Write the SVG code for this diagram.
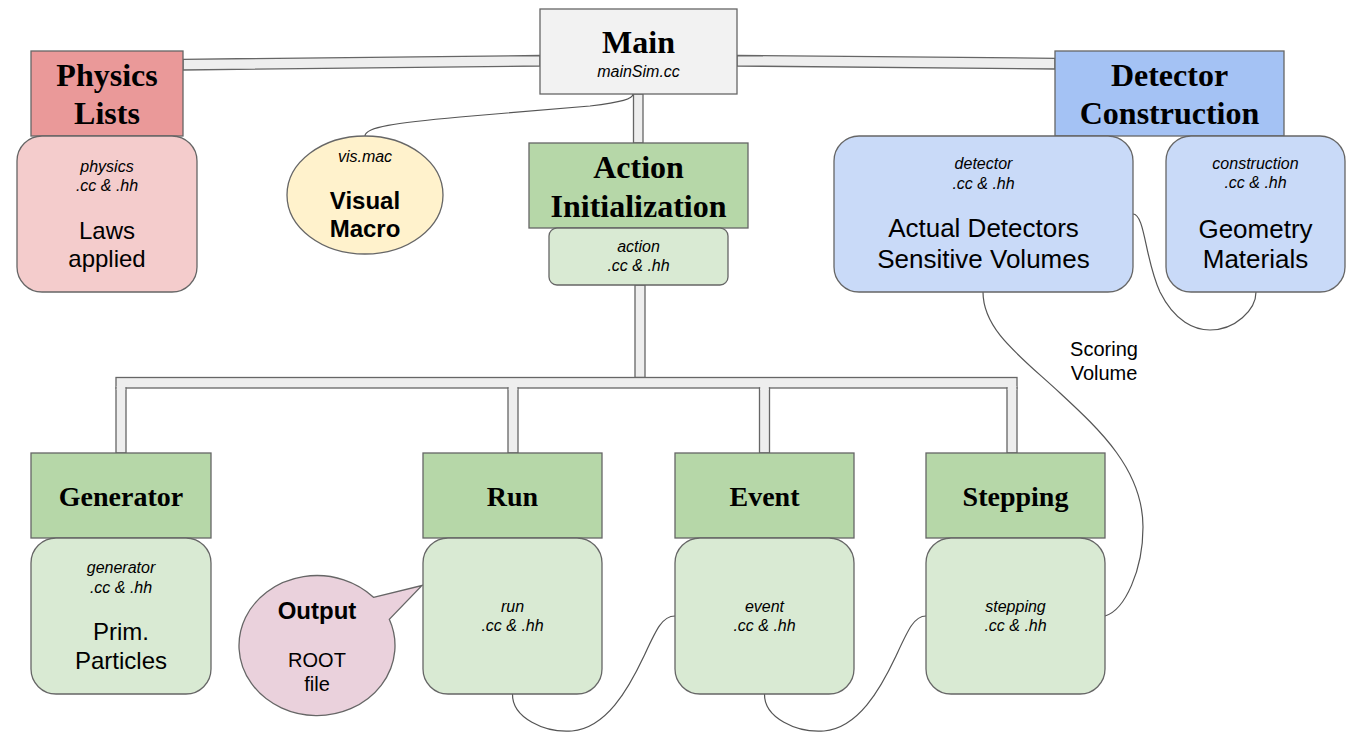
<svg xmlns="http://www.w3.org/2000/svg" width="1365" height="749" viewBox="0 0 1365 749">
<style>
.box{stroke:#666666;stroke-width:1.3}
.pipe{fill:#eeeeee;stroke:#666666;stroke-width:1.3}
.cover{fill:#eeeeee;stroke:none}
.wire{fill:none;stroke:#555555;stroke-width:1.2}
.title{font-family:"Liberation Serif","Times New Roman",serif;font-weight:bold;text-anchor:middle;fill:#000}
.sub{font-family:"Liberation Sans",Arial,sans-serif;font-style:italic;font-size:16px;text-anchor:middle;fill:#000}
.body{font-family:"Liberation Sans",Arial,sans-serif;text-anchor:middle;fill:#000}
</style>
<rect width="1365" height="749" fill="#ffffff"/>
<g id="connectors">
  <polygon class="pipe" points="183,59.3 540,55.5 540,66 183,70"/>
  <polygon class="pipe" points="737,55.5 1055,58.3 1055,69 737,66"/>
  <rect class="pipe" x="633.5" y="94" width="9.5" height="49"/>
  <rect class="pipe" x="635" y="285" width="10" height="92.5"/>
  <rect class="pipe" x="116" y="377.5" width="901" height="10.5"/>
  <rect class="pipe" x="116" y="388" width="10" height="65"/>
  <rect class="pipe" x="508" y="388" width="10" height="65"/>
  <rect class="pipe" x="759.5" y="388" width="10" height="65"/>
  <rect class="pipe" x="1007" y="388" width="10" height="65"/>
  <rect class="cover" x="116.7" y="386" width="8.6" height="4"/>
  <rect class="cover" x="508.7" y="386" width="8.6" height="4"/>
  <rect class="cover" x="760.2" y="386" width="8.6" height="4"/>
  <rect class="cover" x="1007.7" y="386" width="8.6" height="4"/>
  <path class="wire" d="M365,136 C365,127 395,123 460,117 L590,106 C622,102 633,99 633,94"/>
  <path class="wire" d="M512.5,694 C512,718 545,733 572,731 C606,728 628,690 644,656 C656,630 662,616 675,616"/>
  <path class="wire" d="M764.5,694 C764,718 797,733 824,731 C858,728 880,690 896,656 C908,630 914,616 926,616"/>
  <path class="wire" d="M1105,616 C1125,610 1143,570 1143,527 C1143,470 1100,430 1060,393 C1020,356 983,330 983,292"/>
  <path class="wire" d="M1133,214 C1145,214 1145,260 1160,292 C1175,322 1195,330 1210,330 C1235,330 1256,310 1256,292"/>
  <text class="body" font-size="20" x="1104" y="356">Scoring</text>
  <text class="body" font-size="20" x="1104" y="380">Volume</text>
</g>
<g id="main">
  <rect class="box" x="540" y="9" width="197" height="85" fill="#f2f2f2"/>
  <text class="title" font-size="32" x="638.5" y="53">Main</text>
  <text class="sub" x="638.5" y="77">mainSim.cc</text>
</g>
<g id="physics-lists">
  <rect class="box" x="31" y="51" width="152" height="85" fill="#ea9999"/>
  <text class="title" font-size="32" x="107" y="86">Physics</text>
  <text class="title" font-size="32" x="107" y="124">Lists</text>
</g>
<g id="physics-files">
  <rect class="box" x="17" y="136" width="180" height="156" rx="25" fill="#f4cccc"/>
  <text class="sub" x="107" y="172">physics</text>
  <text class="sub" x="107" y="191">.cc &amp; .hh</text>
  <text class="body" font-size="24" x="107" y="239">Laws</text>
  <text class="body" font-size="24" x="107" y="267">applied</text>
</g>
<g id="visual-macro">
  <ellipse class="box" cx="365" cy="195" rx="78" ry="59" fill="#fff2cc"/>
  <text class="sub" x="365" y="162">vis.mac</text>
  <text class="body" font-size="24" font-weight="bold" x="365" y="209">Visual</text>
  <text class="body" font-size="24" font-weight="bold" x="365" y="237">Macro</text>
</g>
<g id="action-initialization">
  <rect class="box" x="529" y="143" width="219" height="85" fill="#b6d7a8"/>
  <text class="title" font-size="32" x="638.5" y="178">Action</text>
  <text class="title" font-size="32" x="638.5" y="217">Initialization</text>
</g>
<g id="action-files">
  <rect class="box" x="549" y="228" width="179" height="57" rx="8" fill="#d9ead3"/>
  <text class="sub" x="638.5" y="252">action</text>
  <text class="sub" x="638.5" y="271">.cc &amp; .hh</text>
</g>
<g id="detector-construction">
  <rect class="box" x="1055" y="51" width="229" height="85" fill="#a4c2f4"/>
  <text class="title" font-size="32" x="1169.5" y="86">Detector</text>
  <text class="title" font-size="32" x="1169.5" y="124">Construction</text>
</g>
<g id="detector-files">
  <rect class="box" x="834" y="136" width="299" height="156" rx="25" fill="#c9daf8"/>
  <text class="sub" x="983.5" y="169">detector</text>
  <text class="sub" x="983.5" y="189">.cc &amp; .hh</text>
  <text class="body" font-size="26" x="983.5" y="237">Actual Detectors</text>
  <text class="body" font-size="26" x="983.5" y="268">Sensitive Volumes</text>
</g>
<g id="construction-files">
  <rect class="box" x="1166" y="136" width="179" height="156" rx="25" fill="#c9daf8"/>
  <text class="sub" x="1255.5" y="169">construction</text>
  <text class="sub" x="1255.5" y="188">.cc &amp; .hh</text>
  <text class="body" font-size="26" x="1255.5" y="238">Geometry</text>
  <text class="body" font-size="26" x="1255.5" y="268">Materials</text>
</g>
<g id="generator">
  <rect class="box" x="31" y="453" width="180" height="85" fill="#b6d7a8"/>
  <text class="title" font-size="28" x="121" y="506">Generator</text>
</g>
<g id="generator-files">
  <rect class="box" x="31" y="538" width="180" height="156" rx="25" fill="#d9ead3"/>
  <text class="sub" x="121" y="573">generator</text>
  <text class="sub" x="121" y="593">.cc &amp; .hh</text>
  <text class="body" font-size="24" x="121" y="640">Prim.</text>
  <text class="body" font-size="24" x="121" y="669">Particles</text>
</g>
<g id="output">
  <path class="box" fill="#ead1dc" d="M373.5,597.3 L422,585.5 L389.3,619.3 A78,70 0 1 1 373.5,597.3 Z"/>
  <text class="body" font-size="24" font-weight="bold" x="317" y="619">Output</text>
  <text class="body" font-size="20" x="317" y="667">ROOT</text>
  <text class="body" font-size="20" x="317" y="691">file</text>
</g>
<g id="run">
  <rect class="box" x="423" y="453" width="179" height="85" fill="#b6d7a8"/>
  <text class="title" font-size="28" x="512.5" y="506">Run</text>
</g>
<g id="run-files">
  <rect class="box" x="423" y="538" width="179" height="156" rx="25" fill="#d9ead3"/>
  <text class="sub" x="512.5" y="612">run</text>
  <text class="sub" x="512.5" y="631">.cc &amp; .hh</text>
</g>
<g id="event">
  <rect class="box" x="675" y="453" width="179" height="85" fill="#b6d7a8"/>
  <text class="title" font-size="28" x="764.5" y="506">Event</text>
</g>
<g id="event-files">
  <rect class="box" x="675" y="538" width="179" height="156" rx="25" fill="#d9ead3"/>
  <text class="sub" x="764.5" y="612">event</text>
  <text class="sub" x="764.5" y="631">.cc &amp; .hh</text>
</g>
<g id="stepping">
  <rect class="box" x="926" y="453" width="179" height="85" fill="#b6d7a8"/>
  <text class="title" font-size="28" x="1015.5" y="506">Stepping</text>
</g>
<g id="stepping-files">
  <rect class="box" x="926" y="538" width="179" height="156" rx="25" fill="#d9ead3"/>
  <text class="sub" x="1015.5" y="612">stepping</text>
  <text class="sub" x="1015.5" y="631">.cc &amp; .hh</text>
</g>
</svg>
